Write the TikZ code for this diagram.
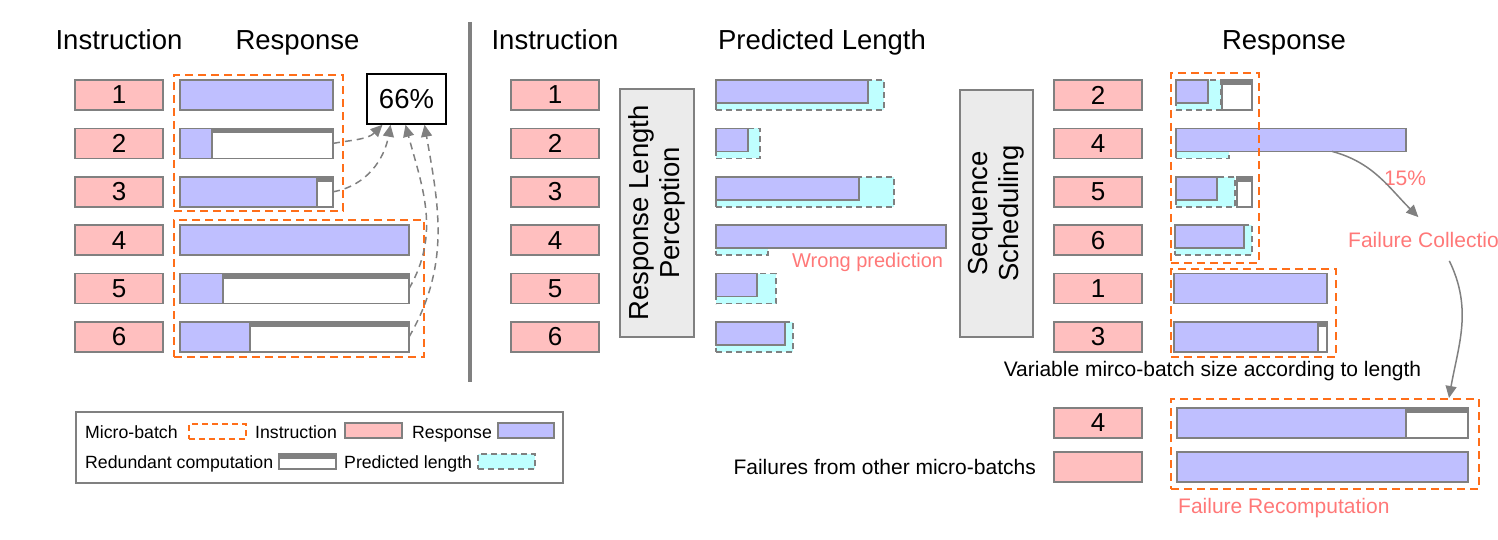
\documentclass[tikz,border=0pt]{standalone}
\usepackage{fontspec}
\setmainfont{Liberation Sans}
\usetikzlibrary{arrows.meta}
\definecolor{insfill}{RGB}{255,191,191}
\definecolor{respfill}{RGB}{191,191,255}
\definecolor{predfill}{RGB}{191,255,255}
\definecolor{linegray}{RGB}{128,128,128}
\definecolor{stagefill}{RGB}{235,235,235}
\definecolor{mborange}{RGB}{255,110,25}
\definecolor{failred}{RGB}{255,120,120}

\begin{document}
\begin{tikzpicture}[x=1pt,y=-1pt,
    bar/.style={anchor=north west,inner sep=0pt,outer sep=0pt,line width=1.5pt,draw=linegray,minimum height=30pt},
    ins/.style={bar,fill=insfill,minimum width=88pt,font=\fontsize{26}{30}\selectfont},
    resp/.style={bar,fill=respfill},
    predresp/.style={resp,minimum height=23pt},
    redund/.style={bar,fill=white,path picture={\fill[linegray] (path picture bounding box.north west) rectangle ([yshift=-5pt]path picture bounding box.north east);}},
    pred/.style={bar,fill=predfill,dash pattern=on 6pt off 4pt},
    mbatch/.style={anchor=north west,inner sep=0pt,draw=mborange,line width=2pt,dash pattern=on 8pt off 5pt},
    stage/.style={draw=linegray,fill=stagefill,line width=1.5pt,rotate=90,align=center,inner sep=0pt,font=\fontsize{27.5}{31}\selectfont},
    head/.style={anchor=base,font=\fontsize{27.5}{33}\selectfont},
    note/.style={inner sep=0pt,font=\fontsize{21}{25}\selectfont},
    fail/.style={note,text=failred},
    legtext/.style={anchor=base west,inner sep=0pt,font=\fontsize{17.7}{21}\selectfont},
    dasharr/.style={draw=linegray,line width=1.5pt,dash pattern=on 7pt off 5pt,-{Triangle[length=12pt,width=11pt]}},
    failarr/.style={draw=linegray,line width=1.5pt,-{Triangle[length=12pt,width=11pt]}}
  ]
  \useasboundingbox (0,0) rectangle (1498,540);

  % headings
  \node[head] (hli) at (119,50) {Instruction};
  \node[head] (hlr) at (297.5,50) {Response};
  \node[head] (hmi) at (555,50) {Instruction};
  \node[head] (hmp) at (822,50) {Predicted Length};
  \node[head] (hrr) at (1284,50) {Response};

  \draw[linegray,line width=4pt] (470,22) -- (470,382);

  % instructions
  \foreach \n [count=\i] in {1,...,6} {
    \node[ins] (li\n) at (75,{80+48.4*(\i-1)}) {\n};
    \node[ins] (mi\n) at (511,{80+48.4*(\i-1)}) {\n};
  }
  \foreach \n [count=\i] in {2,4,5,6,1,3}
    \node[ins] (ri\n) at (1054,{80+48.4*(\i-1)}) {\n};

  % left: fixed micro-batches
  \node[resp,minimum width=153] (lr1) at (180,80) {};
  \node[resp,minimum width=32] (lr2) at (180,128.4) {};
  \node[redund,minimum width=121] (lw2) at (lr2.north east) {};
  \node[resp,minimum width=137] (lr3) at (180,176.8) {};
  \node[redund,minimum width=16] (lw3) at (lr3.north east) {};
  \node[resp,minimum width=229] (lr4) at (180,225.2) {};
  \node[resp,minimum width=43] (lr5) at (180,273.6) {};
  \node[redund,minimum width=186] (lw5) at (lr5.north east) {};
  \node[resp,minimum width=70] (lr6) at (180,322) {};
  \node[redund,minimum width=159] (lw6) at (lr6.north east) {};
  \node[mbatch,minimum width=169,minimum height=136] (mb1) at (173,74) {};
  \node[mbatch,minimum width=250,minimum height=137] (mb2) at (173,219) {};

  \node[draw,line width=1.5pt,minimum width=79,minimum height=50,font=\fontsize{27.5}{33}\selectfont] (pct) at (406.5,99) {66\%};
  \draw[dasharr] (lw2.east) to[out=10,in=225] ([xshift=-24pt]pct.south);
  \draw[dasharr] (lw3.east) to[out=10,in=260] ([xshift=-16pt]pct.south);
  \draw[dasharr] (lw5.east) to[out=60,in=-75] ([xshift=-1pt]pct.south);
  \draw[dasharr] (lw6.east) to[out=60,in=-80] ([xshift=18pt]pct.south);

  % middle: length perception
  \node[stage,minimum width=248,minimum height=74] (rlp) at (657,213) {Response Length\\Perception};
  \foreach \n/\b/\p [count=\i] in {1/152/168,2/32/44,3/143/178,4/230/52,5/41/60,6/69/77} {
    \node[pred,minimum width=\p] (mp\n) at (716,{80+48.4*(\i-1)}) {};
    \node[predresp,minimum width=\b] (mr\n) at (716,{80+48.4*(\i-1)}) {};
  }
  \node[fail,anchor=west,font=\fontsize{20}{24}\selectfont] (wrong) at (792,262) {Wrong prediction};

  % right: scheduling
  \node[stage,minimum width=247,minimum height=73] (ss) at (996.5,213.5) {Sequence\\Scheduling};
  \node[pred,minimum width=45] (rp2) at (1176,80) {};
  \node[predresp,minimum width=32] (rr2) at (1176,80) {};
  \node[redund,minimum width=30] (rw2) at (1222,80) {};
  \node[pred,minimum width=53] (rp4) at (1176,128.4) {};
  \node[predresp,minimum width=230] (rr4) at (1176,128.4) {};
  \node[pred,minimum width=59] (rp5) at (1176,176.8) {};
  \node[predresp,minimum width=41] (rr5) at (1176,176.8) {};
  \node[redund,minimum width=15] (rw5) at (1237,176.8) {};
  \node[pred,minimum width=77] (rp6) at (1175,225.2) {};
  \node[predresp,minimum width=69] (rr6) at (1175,225.2) {};
  \node[resp,minimum width=153] (rr1) at (1174,273.6) {};
  \node[resp,minimum width=144] (rr3) at (1174,322) {};
  \node[redund,minimum width=9] (rw3) at (rr3.north east) {};
  \node[mbatch,minimum width=88,minimum height=190] (mb3) at (1170,72) {};
  \node[mbatch,minimum width=165,minimum height=88] (mb4) at (1170,268) {};
  \node[note] (varmb) at (1212.5,371) {Variable mirco-batch size according to length};

  % failures
  \node[fail] (pc15) at (1405,178) {15\%};
  \node[fail,anchor=west] (fcol) at (1348,240) {Failure Collection};
  \draw[failarr] ([xshift=41pt]rr4.south) to[out=-15,in=135] ([xshift=-11pt,yshift=15pt]fcol.north);

  \node[ins] (rf4i) at (1054,408) {4};
  \node[ins] (rfoi) at (1054,452) {};
  \node[note,anchor=east] (fother) at (1036,467) {Failures from other micro-batchs};
  \node[resp,minimum width=229] (rf4) at (1177,408) {};
  \node[redund,minimum width=62] (rfw4) at (rf4.north east) {};
  \node[resp,minimum width=291] (rfo) at (1177,452) {};
  \node[mbatch,minimum width=308,minimum height=90] (mb5) at (1170,398) {};
  \node[fail,anchor=west] (frec) at (1178,508) {Failure Recomputation};
  \draw[failarr] ([xshift=20pt,yshift=-13pt]fcol.south) to[out=-64,in=80] ([xshift=-31pt]mb5.north east);

  % legend
  \node[anchor=north west,draw=linegray,line width=1.5pt,minimum width=487,minimum height=71,inner sep=0pt] (legend) at (75,411) {};
  \node[legtext] (lgmb) at (85,438) {Micro-batch};
  \node[mbatch,line width=1.5pt,dash pattern=on 6pt off 4pt,minimum width=57,minimum height=15] (lgmbs) at (188,423) {};
  \node[legtext] (lgins) at (255,438) {Instruction};
  \node[bar,fill=insfill,minimum width=57,minimum height=15] (lginss) at (345,423) {};
  \node[legtext] (lgresp) at (412,438) {Response};
  \node[resp,minimum width=56,minimum height=15] (lgresps) at (498,423) {};
  \node[legtext] (lgred) at (85,468) {Redundant computation};
  \node[redund,minimum width=57,minimum height=15] (lgreds) at (279,454) {};
  \node[legtext] (lgpred) at (344,468) {Predicted length};
  \node[pred,minimum width=57,minimum height=15] (lgpreds) at (478,454) {};
\end{tikzpicture}
\end{document}
